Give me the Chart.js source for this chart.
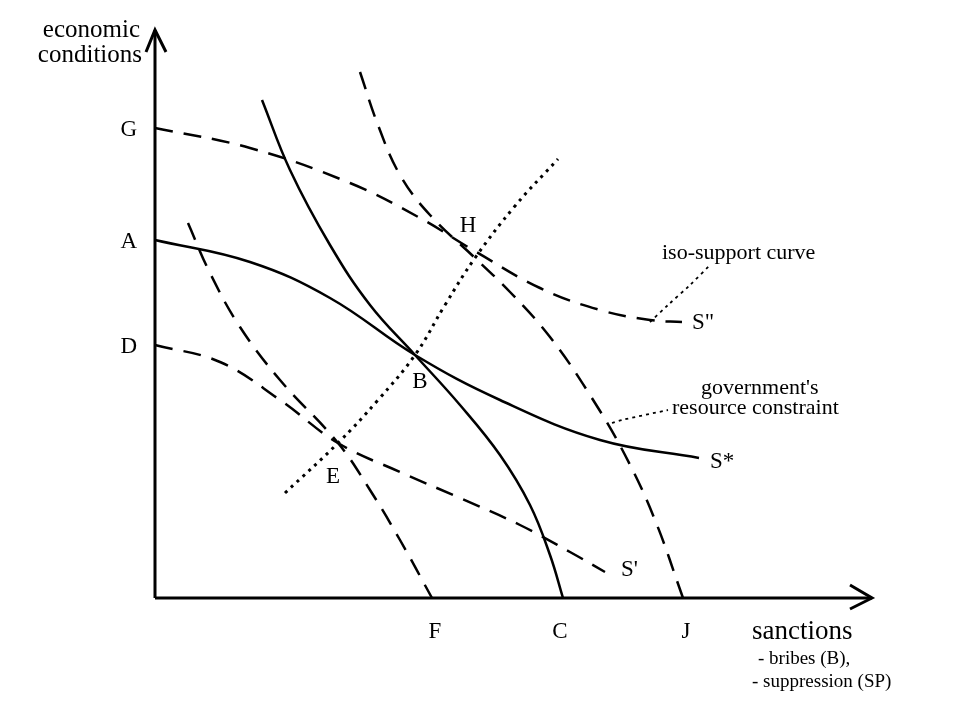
<!DOCTYPE html>
<html>
<head>
<meta charset="utf-8">
<script src="https://cdn.jsdelivr.net/npm/chart.js@4/dist/chart.umd.min.js"></script>
<style>
  html, body { margin: 0; padding: 0; background: #fff; }
  #wrap { width: 968px; height: 706px; }
</style>
</head>
<body>
<div id="wrap"><canvas id="chart1"></canvas></div>
<script>
// values, origin at the axes corner
// (sanctions on x, economic conditions on y)

// iso-support curves
var supportStar = [[0,358],[95,336],[175,300],[260,243],[345,198],[445,158],[544,140]];
var supportHigh = [[0,470],[95,450],[195,415],[265,380],[318,348],[385,310],[445,288],[495,278],[527,276]];
var supportLow  = [[0,253],[65,236],[125,198],[183,155],[245,126],[305,100],[365,73],[415,46],[450,26]];

// government's resource constraints
var constraintMid  = [[107,498],[135,428],[175,353],[215,293],[260,243],[305,193],[345,143],[375,93],[395,43],[408,0]];
var constraintHigh = [[205,526],[223,473],[245,423],[275,383],[320,340],[355,306],[395,261],[435,203],[470,143],[500,78],[528,0]];
var constraintLow  = [[33,375],[55,325],[85,271],[125,218],[183,155],[215,108],[245,58],[277,0]];

// expansion path E - B - H
var expansionPath = [[130,105],[183,155],[223,198],[260,243],[290,293],[320,340],[360,392],[403,439]];

// leader lines for the two notes
var isoLeader = [[495,276],[513,293],[535,313],[555,333]];
var constraintLeader = [[457,175],[467,178],[513,188]];

// axes with arrow heads
var yAxisLine = [[0,0],[0,568]];
var yArrow = [[-9,546],[0,568],[11,546]];
var xAxisLine = [[0,0],[717,0]];
var xArrow = [[695,13],[717,0],[695,-11]];

// key points
var pointE = constraintLow[4];
var pointB = constraintMid[4];
var pointH = constraintHigh[4];

function pts(arr) {
    return arr.map(function(p) { return { x: p[0], y: p[1] }; });
}

function curve(arr, dash, width, tension) {
    return {
        data: pts(arr),
        showLine: true,
        borderColor: '#000',
        backgroundColor: '#000',
        borderWidth: width,
        borderDash: dash,
        borderCapStyle: 'butt',
        pointRadius: 0,
        tension: tension,
        fill: false
    };
}

var serif = "'Liberation Serif', 'DejaVu Serif', serif";

var labelPlugin = {
    id: 'labels',
    afterDatasetsDraw: function(chart) {
        var c = chart.ctx;
        var sx = chart.scales.x, sy = chart.scales.y;
        function txt(s, vx, vy, dx, dy, size, align) {
            c.font = size + 'px ' + serif;
            c.textAlign = align || 'center';
            c.textBaseline = 'middle';
            c.fillStyle = '#000';
            c.fillText(s, sx.getPixelForValue(vx) + dx, sy.getPixelForValue(vy) + dy);
        }
        c.save();
        // axis titles
        txt('economic', 0, 568, -15, 0, 25, 'right');
        txt('conditions', 0, 568, -13, 25, 25, 'right');
        txt('sanctions', 717, 0, -120, 34, 27, 'left');
        txt('- bribes (B),', 717, 0, -114, 61, 19, 'left');
        txt('- suppression (SP)', 717, 0, -120, 84, 19, 'left');

        // intercepts on the axes
        txt('G', 0, supportHigh[0][1], -18, 2, 23, 'right');
        txt('A', 0, supportStar[0][1], -18, 2, 23, 'right');
        txt('D', 0, supportLow[0][1], -18, 2, 23, 'right');
        txt('F', constraintLow[constraintLow.length - 1][0], 0, 3, 34, 23);
        txt('C', constraintMid[constraintMid.length - 1][0], 0, -3, 34, 23);
        txt('J', constraintHigh[constraintHigh.length - 1][0], 0, 3, 34, 23);

        // tangency points
        txt('E', pointE[0], pointE[1], -5, 34, 23);
        txt('B', pointB[0], pointB[1], 5, 27, 23);
        txt('H', pointH[0], pointH[1], -7, -32, 23);

        // curve ends
        txt('S"', supportHigh[supportHigh.length - 1][0], supportHigh[supportHigh.length - 1][1], 10, 1, 23, 'left');
        txt('S*', supportStar[supportStar.length - 1][0], supportStar[supportStar.length - 1][1], 11, 4, 23, 'left');
        txt("S'", supportLow[supportLow.length - 1][0], supportLow[supportLow.length - 1][1], 16, -2, 23, 'left');

        // notes
        txt('iso-support curve', isoLeader[3][0], isoLeader[3][1], -48, -12, 22, 'left');
        txt("government's", constraintLeader[2][0], constraintLeader[2][1], 33, -22, 22, 'left');
        txt('resource constraint', constraintLeader[2][0], constraintLeader[2][1], 4, -2, 22, 'left');
        c.restore();
    }
};

var ctx = document.getElementById('chart1').getContext('2d');
var myChart = new Chart(ctx, {
    type: 'scatter',
    data: {
        datasets: [
            curve(yAxisLine, [], 3, 0),
            curve(yArrow, [], 3, 0),
            curve(xAxisLine, [], 3, 0),
            curve(xArrow, [], 3, 0),
            curve(supportStar, [], 2.5, 0.4),
            curve(constraintMid, [], 2.5, 0.4),
            curve(supportHigh, [18, 11], 2.5, 0.4),
            curve(constraintHigh, [18, 11], 2.5, 0.4),
            curve(supportLow, [18, 11], 2.5, 0.4),
            curve(constraintLow, [18, 11], 2.5, 0.4),
            curve(expansionPath, [3, 5], 3, 0.4),
            curve(isoLeader, [3, 4], 1.8, 0.3),
            curve(constraintLeader, [3, 4], 1.8, 0.3)
        ]
    },
    options: {
        responsive: true,
        maintainAspectRatio: false,
        animation: false,
        layout: { padding: 0 },
        plugins: {
            legend: { display: false },
            tooltip: { enabled: false }
        },
        scales: {
            x: { type: 'linear', display: false, min: -155, max: 813 },
            y: { type: 'linear', display: false, min: -108, max: 598 }
        }
    },
    plugins: [labelPlugin]
});
</script>
</body>
</html>
